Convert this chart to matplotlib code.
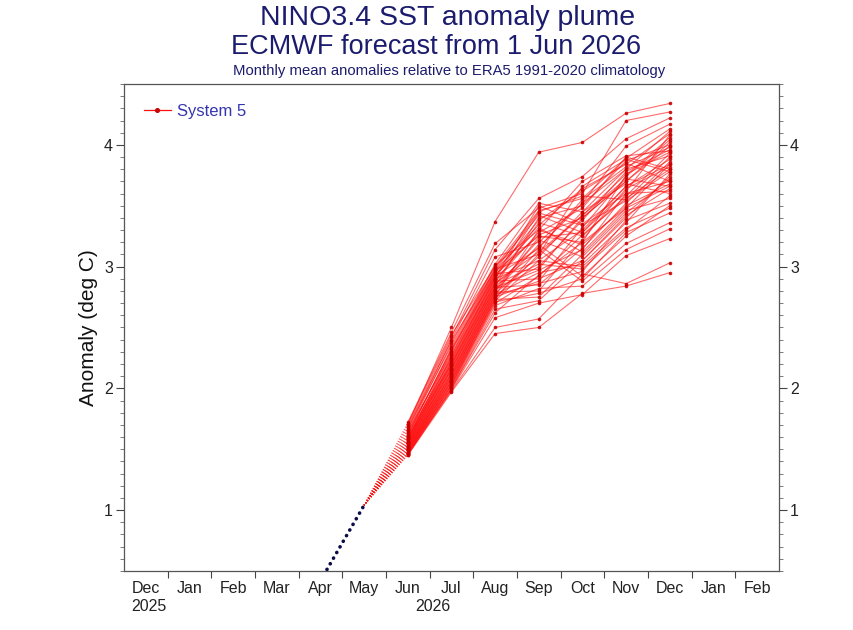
import matplotlib
matplotlib.use("Agg")
import matplotlib.pyplot as plt
from matplotlib.ticker import MultipleLocator, FixedLocator
from matplotlib.lines import Line2D
import matplotlib.transforms as mtransforms

plt.rcParams['font.family'] = ['Liberation Sans', 'DejaVu Sans']

# ---------------- data ----------------
month_labels = ["Dec", "Jan", "Feb", "Mar", "Apr", "May", "Jun", "Jul",
                "Aug", "Sep", "Oct", "Nov", "Dec", "Jan", "Feb"]
year_labels = ["2025", "2026"]
year_label_pos = [0.5, 7.0]   # in month-index units

obs_months = [4, 5]           # Apr, May 2026 (index from Dec 2025)
obs_values = [0.42, 1.04]

fc_months = [6, 7, 8, 9, 10, 11, 12]   # Jun..Dec 2026

jun_vals = [1.70, 1.72, 1.69, 1.66, 1.64, 1.67, 1.61, 1.63, 1.58, 1.65,
            1.60, 1.57, 1.62, 1.56, 1.59, 1.55, 1.60, 1.54, 1.58, 1.53,
            1.56, 1.52, 1.55, 1.51, 1.54, 1.50, 1.53, 1.49, 1.52, 1.48,
            1.51, 1.47, 1.50, 1.46, 1.49, 1.48, 1.45, 1.47, 1.46, 1.45,
            1.71, 1.68, 1.62, 1.59, 1.57, 1.55, 1.52, 1.50, 1.49, 1.47, 1.46]
jul_vals = [2.50, 2.46, 2.42, 2.40, 2.37, 2.35, 2.33, 2.31, 2.30, 2.28,
            2.27, 2.26, 2.24, 2.23, 2.22, 2.21, 2.20, 2.19, 2.18, 2.17,
            2.16, 2.15, 2.14, 2.13, 2.12, 2.11, 2.10, 2.09, 2.08, 2.07,
            2.06, 2.05, 2.04, 2.03, 2.02, 2.01, 2.00, 1.99, 1.98, 1.97,
            2.44, 2.39, 2.32, 2.25, 2.20, 2.16, 2.12, 2.09, 2.06, 2.03, 2.00]
aug_vals = [3.37, 3.19, 3.14, 3.08, 3.02, 3.01, 2.99, 2.98, 2.97, 2.96,
            2.95, 2.94, 2.93, 2.92, 2.91, 2.90, 2.89, 2.88, 2.87, 2.86,
            2.85, 2.84, 2.83, 2.82, 2.81, 2.80, 2.79, 2.78, 2.77, 2.76,
            2.75, 2.74, 2.73, 2.72, 2.70, 2.68, 2.65, 2.58, 2.50, 2.45,
            3.00, 2.97, 2.93, 2.90, 2.86, 2.83, 2.80, 2.77, 2.74, 2.71, 2.62]
sep_vals = [3.94, 3.48, 3.56, 3.20, 3.52, 3.30, 3.42, 3.10, 3.45, 3.25,
            3.38, 2.98, 3.32, 3.15, 3.50, 3.05, 3.28, 2.90, 3.36, 3.12,
            3.02, 3.40, 2.85, 3.22, 3.00, 3.18, 2.80, 3.08, 2.95, 3.30,
            2.88, 3.14, 2.75, 3.05, 2.92, 2.82, 2.72, 2.70, 2.57, 2.50,
            3.46, 3.34, 3.26, 3.44, 3.16, 2.97, 3.24, 2.86, 3.10, 2.78, 2.93]
oct_vals = [4.02, 3.60, 3.74, 3.52, 3.45, 3.70, 3.28, 3.66, 3.58, 3.20,
            3.62, 3.40, 3.12, 3.55, 3.35, 3.30, 3.48, 3.05, 3.25, 3.42,
            2.98, 3.50, 3.15, 3.08, 3.38, 2.92, 3.22, 3.45, 3.02, 3.18,
            3.32, 2.88, 3.10, 3.00, 3.26, 2.84, 3.05, 2.77, 2.94, 2.78,
            3.56, 3.64, 3.40, 3.34, 3.52, 3.14, 3.28, 2.96, 3.42, 2.90, 3.20]
nov_vals = [4.26, 4.20, 4.05, 3.99, 3.80, 3.91, 3.62, 3.88, 3.55, 3.75,
            3.85, 3.70, 3.48, 3.82, 3.60, 3.66, 3.90, 3.40, 3.58, 3.72,
            3.30, 3.87, 3.52, 3.44, 3.78, 3.25, 3.64, 3.68, 3.36, 3.50,
            3.74, 3.19, 3.46, 3.32, 3.56, 3.14, 3.42, 3.09, 2.86, 2.84,
            3.89, 3.84, 3.70, 3.54, 3.80, 3.60, 3.66, 3.38, 3.76, 3.28, 3.48]
dec_vals = [4.34, 4.27, 4.22, 4.17, 4.11, 3.95, 4.08, 3.78, 3.90, 4.06,
            3.70, 4.02, 3.84, 3.98, 3.62, 3.88, 3.80, 3.74, 3.93, 3.66,
            3.58, 4.00, 3.86, 3.72, 3.96, 3.50, 3.82, 3.60, 3.76, 3.68,
            4.04, 3.36, 3.56, 3.48, 3.80, 3.31, 3.64, 3.23, 3.03, 2.95,
            4.13, 4.09, 3.99, 3.78, 3.91, 3.70, 3.84, 3.52, 3.94, 3.44, 3.66]

forecast = [jun_vals, jul_vals, aug_vals, sep_vals, oct_vals, nov_vals, dec_vals]

# ---------------- figure ----------------
fig = plt.figure(figsize=(8.54, 6.30), dpi=100)
ax = fig.add_axes([0.1452, 0.0937, 0.7668, 0.773])

navy = '#1c1c6e'
red_line = '#ff1010'
red_mark = '#c80000'

centre = 0.5  # plot at month centre
n_members = len(jun_vals)
for i in range(n_members):
    vals = [series[i] for series in forecast]
    xs = [m + centre for m in fc_months]
    # dotted bridge from last observation to first forecast month
    ax.plot([obs_months[-1] + centre, xs[0]], [obs_values[-1], vals[0]],
            linestyle=(0, (1.0, 2.2)), color=red_line, lw=0.6, alpha=0.6, zorder=2)
    ax.plot(xs, vals, color=red_line, lw=0.8, alpha=0.62, zorder=3)
    ax.plot(xs, vals, linestyle='none', marker='o', ms=2.6,
            mfc=red_mark, mec=red_mark, mew=0, alpha=0.9, zorder=4)

ax.plot([m + centre for m in obs_months], obs_values, color='#0b0b4a',
        lw=2.6, linestyle=(0, (0.05, 1.75)), dash_capstyle='round', zorder=5)

# axes limits & ticks
ax.set_xlim(0, 15)
ax.set_ylim(0.5, 4.5)
ax.xaxis.set_major_locator(FixedLocator(list(range(1, 15))))
ax.xaxis.set_minor_locator(FixedLocator([i + 0.5 for i in range(15)]))
ax.set_xticklabels([''] * 14)
ax.set_xticklabels(month_labels, minor=True)
ax.tick_params(axis='x', which='major', direction='out', length=5, width=0.8, color='#444444')
ax.tick_params(axis='x', which='minor', length=0, labelsize=11.5, pad=7, labelcolor='#222222')

ax.yaxis.set_major_locator(MultipleLocator(1))
ax.yaxis.set_minor_locator(MultipleLocator(0.1))
ax.tick_params(axis='y', which='major', direction='out', length=6, width=0.8,
               color='#444444', labelsize=11.5, labelcolor='#222222',
               left=True, right=True, labelleft=True, labelright=True, pad=2)
ax.tick_params(axis='y', which='minor', direction='out', length=3, width=0.6,
               color='#666666', left=True, right=True)

for sp in ax.spines.values():
    sp.set_color('#555555')
    sp.set_linewidth(0.9)

trans = mtransforms.blended_transform_factory(ax.transData, ax.transAxes)
for lab, pos in zip(year_labels, year_label_pos):
    ax.text(pos + 0.08, -0.057, lab, transform=trans, ha='center', va='top',
            fontsize=11.5, color='#222222')

ax.set_ylabel('Anomaly (deg C)', fontsize=15, color='#111111', labelpad=4)

# legend
handle = Line2D([0], [0], color=red_line, lw=0.9, marker='o', ms=2.6,
                mfc=red_mark, mec=red_mark)
leg = ax.legend([handle], ['System 5'], loc='upper left', frameon=False,
                fontsize=12, handlelength=1.6, handletextpad=0.4,
                bbox_to_anchor=(0.0, 1.0), borderaxespad=0.8)
for t in leg.get_texts():
    t.set_color('#3535b0')

# titles
fig.text(0.524, 0.971, 'NINO3.4 SST anomaly plume', ha='center', va='center',
         fontsize=20.5, color=navy)
fig.text(0.511, 0.925, 'ECMWF forecast from 1 Jun 2026', ha='center', va='center',
         fontsize=19.5, color=navy)
fig.text(0.526, 0.887, 'Monthly mean anomalies relative to ERA5 1991-2020 climatology',
         ha='center', va='center', fontsize=10.7, color=navy)

fig.savefig('out.png', dpi=100)
